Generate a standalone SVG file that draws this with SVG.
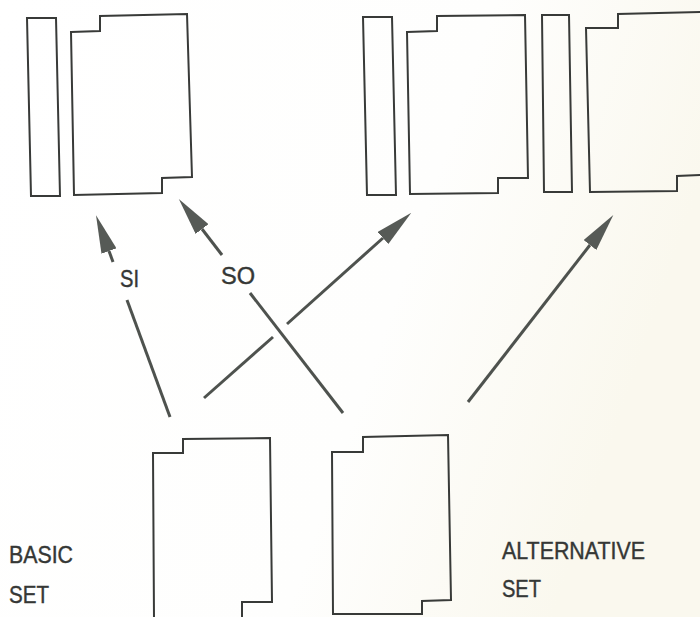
<svg xmlns="http://www.w3.org/2000/svg" width="700" height="617" viewBox="0 0 700 617">
  <defs>
    <linearGradient id="paper" x1="0" y1="0" x2="1" y2="0.3">
      <stop offset="0" stop-color="#ffffff"/>
      <stop offset="0.65" stop-color="#fefefd"/>
      <stop offset="1" stop-color="#faf8ee"/>
    </linearGradient>
    <marker id="head" markerUnits="userSpaceOnUse" viewBox="0 0 38 16" markerWidth="38" markerHeight="16" refX="0" refY="8" orient="auto">
      <path d="M0,0 L38,8 L0,16 Z" fill="#565a56"/>
    </marker>
    <style>
      .slot { fill: none; stroke: #383a38; stroke-width: 2; stroke-linejoin: miter; }
      .card { fill: none; stroke: #383a38; stroke-width: 2; stroke-linejoin: miter; }
      .wire { fill: none; stroke: #4e524e; stroke-width: 3; stroke-linecap: butt; }
      .lbl { font-family: "Liberation Sans", Arial, sans-serif; font-size: 23px; fill: #353735; stroke: #353735; stroke-width: 0.4; }
    </style>
  </defs>

  <rect x="0" y="0" width="700" height="617" fill="url(#paper)"/>

  <!-- upper row: slots and cards -->
  <g id="slot-1"><path class="slot" d="M27,18 L56,18 L60,196 L31,196 Z"/></g>
  <g id="card-1"><path class="card" d="M71,32 L100,31 L100,16 L187,14 L192,177 L162,178 L162,193 L74,195 Z"/></g>

  <g id="slot-2"><path class="slot" d="M363,17 L392,17 L396,195 L367,195 Z"/></g>
  <g id="card-2"><path class="card" d="M407,32 L437,31 L437,16 L525,15 L528,178 L498,178 L498,193 L410,194 Z"/></g>

  <g id="slot-3"><path class="slot" d="M542,15 L569,15 L572,192 L544,192 Z"/></g>
  <g id="card-3"><path class="card" d="M702,12 L618,14 L618,28 L586,28 L590,192 L677,191 L677,176 L702,175"/></g>

  <!-- lower row: the two card sets -->
  <g id="card-basic"><path class="card" d="M154,619 L153,453 L183,453 L183,439 L270,438 L272,602 L242,602 L242,619"/></g>
  <g id="card-alt"><path class="card" d="M332,452 L363,452 L363,437 L448,435 L451,600 L422,601 L422,614 L333,614 Z"/></g>

  <!-- connectors -->
  <g id="connectors">
    <!-- SI -->
    <line class="wire" x1="170" y1="417" x2="127" y2="300"/>
    <line class="wire" x1="113" y1="262" x2="109" y2="251" marker-end="url(#head)"/>
    <!-- SO -->
    <line class="wire" x1="343" y1="413" x2="250" y2="293"/>
    <line class="wire" x1="222" y1="255" x2="202" y2="229" marker-end="url(#head)"/>
    <!-- basic set to second card (broken where it passes the SO line) -->
    <line class="wire" x1="204" y1="398" x2="273" y2="337"/>
    <line class="wire" x1="287" y1="324" x2="383" y2="238" marker-end="url(#head)"/>
    <!-- alternative set to third card -->
    <line class="wire" x1="468" y1="402" x2="590" y2="245" marker-end="url(#head)"/>
  </g>

  <!-- labels -->
  <g id="labels">
    <text class="lbl" x="120" y="287" textLength="19" lengthAdjust="spacingAndGlyphs">SI</text>
    <text class="lbl" x="221" y="284" textLength="34" lengthAdjust="spacingAndGlyphs">SO</text>
    <text class="lbl" x="9" y="563" textLength="64" lengthAdjust="spacingAndGlyphs">BASIC</text>
    <text class="lbl" x="9" y="603" textLength="40" lengthAdjust="spacingAndGlyphs">SET</text>
    <text class="lbl" x="502" y="559" textLength="143" lengthAdjust="spacingAndGlyphs">ALTERNATIVE</text>
    <text class="lbl" x="502" y="597" textLength="39" lengthAdjust="spacingAndGlyphs">SET</text>
  </g>
</svg>
